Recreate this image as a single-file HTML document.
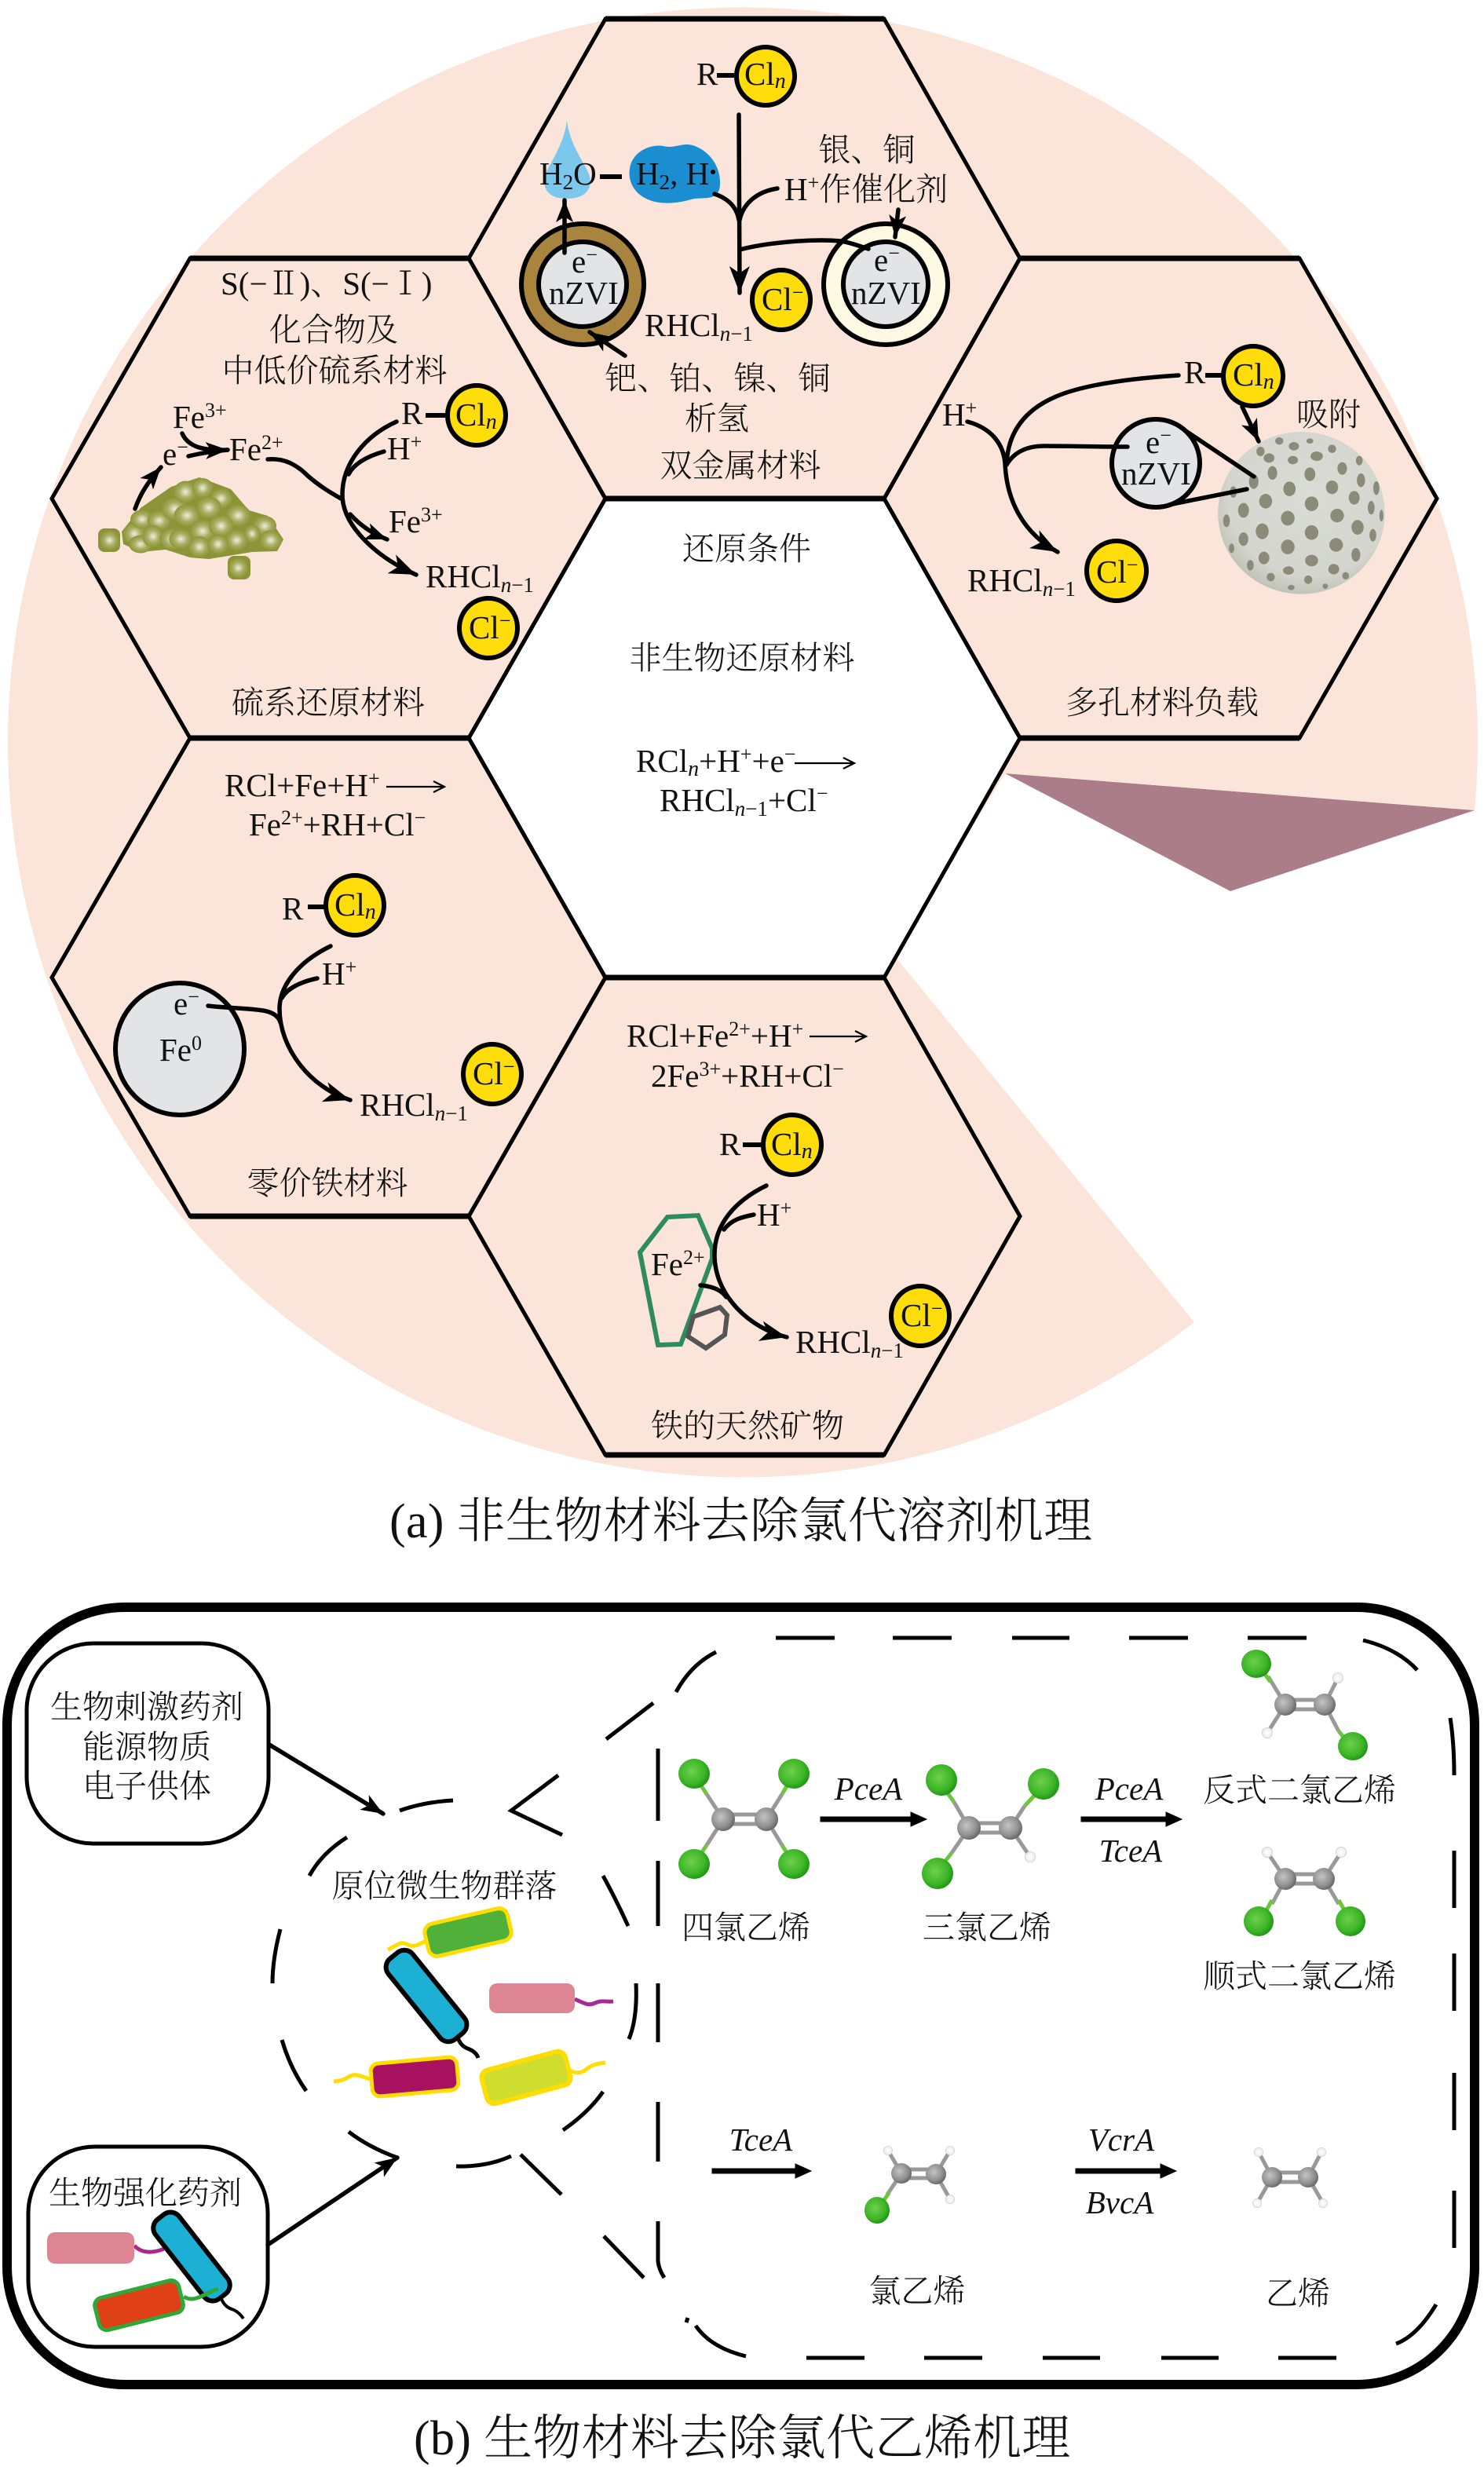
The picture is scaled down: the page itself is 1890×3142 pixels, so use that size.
<!DOCTYPE html>
<html><head><meta charset="utf-8"><style>
html,body{margin:0;padding:0;background:#fff}
svg{display:block}
text{font-family:"Liberation Serif","Noto Serif CJK SC",serif;font-size:41px;fill:#111;font-weight:300}
.m:not(.i){transform:translateY(2px)}
.m{text-anchor:middle}
.cap{font-size:62px;letter-spacing:.3px}
.i{font-style:italic;font-size:41px}
.l{fill:none;stroke:#000;stroke-width:5.5;stroke-linecap:round}
.t{fill:none;stroke:#000;stroke-width:2.2}
.d{fill:none;stroke:#000;stroke-width:5}
.h{fill:none;stroke:#000;stroke-width:5;stroke-linejoin:miter}
.y{fill:#ffdd0a;stroke:#000;stroke-width:6}
.g{fill:#e3e4e6;stroke:#000;stroke-width:6}
.b{stroke:#999;stroke-width:5}
.bg{stroke:#6cc63a;stroke-width:5}
</style></head><body>
<svg width="1890" height="3142" viewBox="0 0 1890 3142" xmlns="http://www.w3.org/2000/svg">
<defs>
<marker id="a" markerUnits="userSpaceOnUse" markerWidth="38" markerHeight="30" refX="34" refY="15" orient="auto"><path d="M0 2L34 15L0 28L9 15Z" fill="#000"/></marker>
<marker id="s" markerUnits="userSpaceOnUse" markerWidth="32" markerHeight="24" refX="28" refY="12" orient="auto"><path d="M0 1L28 12L0 23L7 12Z" fill="#000"/></marker>
<radialGradient id="cl" cx=".42" cy=".42" r=".6"><stop offset="0" stop-color="#6ed04c"/><stop offset=".7" stop-color="#3cb526"/><stop offset="1" stop-color="#1f9414"/></radialGradient>
<radialGradient id="cc" cx=".4" cy=".4" r=".62"><stop offset="0" stop-color="#c4c4c4"/><stop offset=".7" stop-color="#8e8e8e"/><stop offset="1" stop-color="#666"/></radialGradient>
<radialGradient id="hh" cx=".5" cy=".5" r=".55"><stop offset="0" stop-color="#fff"/><stop offset=".75" stop-color="#eee"/><stop offset="1" stop-color="#aaa"/></radialGradient>
<radialGradient id="ol" cx=".5" cy=".5" r=".55"><stop offset="0" stop-color="#eeeedd"/><stop offset=".5" stop-color="#a8ae62"/><stop offset="1" stop-color="#87902f"/></radialGradient>
<radialGradient id="sp" cx=".55" cy=".4" r=".7"><stop offset="0" stop-color="#dadcd6"/><stop offset=".7" stop-color="#d3d5ce"/><stop offset="1" stop-color="#b3b6aa"/></radialGradient>
</defs>

<!-- part a background -->
<path d="M1567 1135L1280 985L1878 1032Z" fill="#ab7d88"/>
<path d="M1878 1032A936 936 0 1 0 1521 1684L1139 1217L1280 985Z" fill="#fbe5da"/>
<polygon points="771,635 1126,635 1299,940 1126,1245 771,1245 597,940" fill="#fff"/>

<!-- hexagons -->
<g class="h">
<polygon class="h" points="771,24 1126,24 1299,329 1126,635 771,635 597,329"/>
<polygon class="h" points="242,329 597,329 771,635 597,940 242,940 66,635"/>
<polygon class="h" points="1299,329 1655,329 1830,635 1655,940 1299,940 1126,635"/>
<polygon class="h" points="597,940 771,1245 597,1549 242,1549 66,1245 242,940"/>
<polygon class="h" points="1126,1245 1299,1549 1126,1853 771,1853 597,1549 771,1245"/>
<polygon class="h" points="771,635 1126,635 1299,940 1126,1245 771,1245 597,940"/>
</g>
<g stroke="#000" stroke-width="7">
<path d="M771 24H1126M242 329H597M1299 329H1655M771 635H1126M242 940H597M1299 940H1655M771 1245H1126M242 1549H597M771 1853H1126"/>
</g>

<!-- TOP HEX -->
<text x="887" y="108">R</text>
<path d="M913 96H935" stroke="#000" stroke-width="6"/>
<ellipse class="y" cx="975" cy="97" rx="37" ry="37"/>
<text x="948" y="108">Cl<tspan style="font-size:28px;font-style:italic" dy="4">n</tspan></text>
<path d="M722 153C726 190 752 215 752 230C752 247 738 253 722 253C706 253 693 247 693 230C693 215 718 190 722 153Z" fill="#7cc8ec"/>
<path d="M802 215C805 192 830 183 845 186C860 190 870 180 885 186C905 194 918 213 917 235C916 258 895 250 880 254C860 260 832 262 815 248C805 240 800 228 802 215Z" fill="#1b8ed2"/>
<text x="687" y="235">H<tspan style="font-size:27px" dy="6">2</tspan><tspan dy="-6">O</tspan></text>
<path d="M764 225H792" stroke="#000" stroke-width="6"/>
<text x="810" y="235">H<tspan style="font-size:27px" dy="6">2</tspan><tspan dy="-6">, H</tspan></text>
<circle cx="908" cy="219" r="3" fill="#000"/>
<path class="l" d="M941 146L942 373" marker-end="url(#a)"/>
<path class="l" d="M910 247C925 252 938 262 941 280"/>
<path class="l" d="M990 240C965 244 947 258 942 280"/>
<text x="999" y="255">H<tspan style="font-size:26px" dy="-14">+</tspan><tspan dy="14">作催化剂</tspan></text>
<text x="1104" y="203" class="m">银、铜</text>
<ellipse cx="1128" cy="362" rx="79" ry="77" fill="#fdf9e3" stroke="#000" stroke-width="6"/>
<ellipse class="g" cx="1128" cy="362" rx="54" ry="54"/>
<text x="1113" y="345">e<tspan style="font-size:26px" dy="-14">−</tspan></text>
<text x="1084" y="387">nZVI</text>
<ellipse cx="742" cy="362" rx="78" ry="77" fill="#a9843e" stroke="#000" stroke-width="6"/>
<ellipse class="g" cx="742" cy="362" rx="56" ry="54"/>
<text x="728" y="347">e<tspan style="font-size:26px" dy="-14">−</tspan></text>
<text x="699" y="387">nZVI</text>
<path class="l" d="M719 322L719 255" marker-end="url(#s)"/>
<path class="l" d="M796 453L751 423" marker-end="url(#s)"/>
<path class="l" d="M1144 267L1140 302" marker-end="url(#s)"/>
<path class="l" d="M942 318C980 308 1040 304 1070 307C1085 309 1095 314 1106 317"/>
<ellipse class="y" cx="995" cy="382" rx="37" ry="38"/>
<text x="970" y="395">Cl<tspan style="font-size:26px" dy="-14">−</tspan></text>
<text x="821" y="428">RHCl<tspan style="font-size:27px;font-style:italic" dy="6">n</tspan><tspan style="font-size:27px">−1</tspan></text>
<text x="914" y="494" class="m">钯、铂、镍、铜</text>
<text x="913" y="545" class="m">析氢</text>
<text x="943" y="605" class="m">双金属材料</text>

<!-- UPPER LEFT HEX -->
<text x="281" y="375">S(−Ⅱ)、S(−Ⅰ)</text>
<text x="425" y="432" class="m">化合物及</text>
<text x="426" y="484" class="m">中低价硫系材料</text>
<text x="418" y="907" class="m">硫系还原材料</text>
<polygon points="155,677 179,647 218,620 254,608 294,623 317,650 341,657 361,687 353,702 321,703 266,712 242,710 211,700 179,703 157,693" fill="#8b9436"/>
<rect x="125" y="673" width="28" height="30" rx="8" fill="#8b9436"/>
<rect x="290" y="708" width="29" height="30" rx="8" fill="#8b9436"/>
<g transform="translate(100 480) scale(.395 .333)" fill="url(#ol)">
<ellipse cx="100" cy="625" rx="32" ry="38"/><ellipse cx="180" cy="600" rx="36" ry="42"/><ellipse cx="200" cy="640" rx="38" ry="34"/><ellipse cx="205" cy="545" rx="38" ry="36"/><ellipse cx="260" cy="550" rx="38" ry="38"/><ellipse cx="240" cy="610" rx="34" ry="42"/><ellipse cx="300" cy="620" rx="38" ry="42"/><ellipse cx="310" cy="505" rx="42" ry="44"/><ellipse cx="345" cy="440" rx="38" ry="42"/><ellipse cx="400" cy="425" rx="34" ry="38"/><ellipse cx="460" cy="465" rx="36" ry="38"/><ellipse cx="350" cy="530" rx="42" ry="42"/><ellipse cx="420" cy="500" rx="40" ry="42"/><ellipse cx="515" cy="530" rx="40" ry="42"/><ellipse cx="400" cy="590" rx="42" ry="42"/><ellipse cx="460" cy="570" rx="40" ry="42"/><ellipse cx="510" cy="625" rx="36" ry="40"/><ellipse cx="390" cy="650" rx="36" ry="40"/><ellipse cx="600" cy="570" rx="38" ry="38"/><ellipse cx="620" cy="625" rx="36" ry="38"/><ellipse cx="560" cy="600" rx="26" ry="34"/><ellipse cx="330" cy="620" rx="38" ry="38"/><ellipse cx="515" cy="730" rx="32" ry="38"/><ellipse cx="450" cy="640" rx="34" ry="38"/>
</g>
<path d="M172 648C180 625 192 610 205 595" class="l" marker-end="url(#s)"/>
<path d="M232 552C240 570 260 574 290 573" class="l" marker-end="url(#s)"/>
<path d="M240 581C252 578 268 575 290 573" class="l"/>
<text x="220" y="545">Fe<tspan style="font-size:26px" dy="-14">3+</tspan></text>
<text x="207" y="592">e<tspan style="font-size:26px" dy="-14">−</tspan></text>
<text x="292" y="586">Fe<tspan style="font-size:26px" dy="-14">2+</tspan></text>
<text x="511" y="540">R</text>
<text x="493" y="585">H<tspan style="font-size:26px" dy="-14">+</tspan></text>
<path d="M542 529H570" stroke="#000" stroke-width="6"/>
<ellipse class="y" cx="607" cy="529" rx="37" ry="38"/>
<text x="580" y="542">Cl<tspan style="font-size:28px;font-style:italic" dy="4">n</tspan></text>
<path class="l" d="M341 585C362 583 378 592 392 606C408 620 422 628 436 636"/>
<path class="l" d="M505 537C465 555 436 590 436 630C436 670 480 710 530 732" marker-end="url(#a)"/>
<path class="l" d="M489 575C465 582 450 592 444 604"/>
<path class="l" d="M446 655C455 665 470 678 493 687" marker-end="url(#s)"/>
<text x="495" y="678">Fe<tspan style="font-size:26px" dy="-14">3+</tspan></text>
<text x="542" y="748">RHCl<tspan style="font-size:27px;font-style:italic" dy="6">n</tspan><tspan style="font-size:27px">−1</tspan></text>
<ellipse class="y" cx="622" cy="800" rx="37" ry="38"/>
<text x="597" y="813">Cl<tspan style="font-size:26px" dy="-14">−</tspan></text>

<!-- UPPER RIGHT HEX -->
<text x="1200" y="542">H<tspan style="font-size:26px" dy="-14">+</tspan></text>
<path class="l" d="M1232 537C1262 545 1278 565 1280 590C1282 640 1305 680 1347 703" marker-end="url(#a)"/>
<path class="l" d="M1501 478C1440 482 1380 490 1345 505C1305 522 1284 550 1282 590"/>
<text x="1508" y="488">R</text>
<path d="M1535 478H1558" stroke="#000" stroke-width="6"/>
<ellipse class="y" cx="1596" cy="479" rx="38" ry="38"/>
<text x="1570" y="491">Cl<tspan style="font-size:28px;font-style:italic" dy="4">n</tspan></text>
<g transform="translate(1150 440) scale(.4337 .3333)">
<ellipse cx="1170" cy="640" rx="245" ry="310" fill="url(#sp)"/>
<g fill="#8b8b7a">
<ellipse cx="1105" cy="365" rx="12" ry="14"/><ellipse cx="1148" cy="385" rx="15" ry="16"/><ellipse cx="1195" cy="365" rx="10" ry="10"/><ellipse cx="1260" cy="395" rx="12" ry="16"/><ellipse cx="1050" cy="405" rx="12" ry="18"/><ellipse cx="1075" cy="430" rx="16" ry="18"/><ellipse cx="1145" cy="438" rx="15" ry="16"/><ellipse cx="1215" cy="423" rx="18" ry="18"/><ellipse cx="1290" cy="470" rx="14" ry="24"/><ellipse cx="1340" cy="440" rx="10" ry="18"/><ellipse cx="1085" cy="487" rx="14" ry="26"/><ellipse cx="1195" cy="492" rx="16" ry="26"/><ellipse cx="1345" cy="515" rx="12" ry="26"/><ellipse cx="1390" cy="545" rx="9" ry="26"/><ellipse cx="1030" cy="520" rx="14" ry="28"/><ellipse cx="1135" cy="548" rx="18" ry="28"/><ellipse cx="1260" cy="542" rx="18" ry="26"/><ellipse cx="1325" cy="582" rx="16" ry="26"/><ellipse cx="1375" cy="620" rx="10" ry="26"/><ellipse cx="970" cy="560" rx="10" ry="22"/><ellipse cx="1065" cy="595" rx="19" ry="28"/><ellipse cx="1200" cy="605" rx="20" ry="28"/><ellipse cx="1000" cy="630" rx="16" ry="28"/><ellipse cx="1130" cy="660" rx="20" ry="28"/><ellipse cx="1275" cy="650" rx="20" ry="26"/><ellipse cx="1405" cy="650" rx="6" ry="22"/><ellipse cx="950" cy="670" rx="10" ry="24"/><ellipse cx="1055" cy="710" rx="19" ry="30"/><ellipse cx="1200" cy="715" rx="20" ry="28"/><ellipse cx="1335" cy="695" rx="18" ry="28"/><ellipse cx="1380" cy="725" rx="10" ry="24"/><ellipse cx="1000" cy="740" rx="14" ry="26"/><ellipse cx="1130" cy="770" rx="20" ry="28"/><ellipse cx="1272" cy="762" rx="20" ry="26"/><ellipse cx="1330" cy="800" rx="13" ry="26"/><ellipse cx="965" cy="775" rx="8" ry="18"/><ellipse cx="1060" cy="812" rx="16" ry="24"/><ellipse cx="1200" cy="822" rx="19" ry="22"/><ellipse cx="1265" cy="855" rx="16" ry="20"/><ellipse cx="1020" cy="840" rx="10" ry="20"/><ellipse cx="1132" cy="860" rx="16" ry="16"/><ellipse cx="1080" cy="885" rx="12" ry="16"/><ellipse cx="1190" cy="895" rx="12" ry="16"/><ellipse cx="1300" cy="880" rx="10" ry="14"/><ellipse cx="1140" cy="925" rx="10" ry="10"/><ellipse cx="1240" cy="920" rx="8" ry="10"/>
</g></g>
<path class="l" d="M1582 518L1603 562" marker-end="url(#s)"/>
<text x="1692" y="540" class="m">吸附</text>
<path class="l" d="M1497 540L1597 607M1493 642L1588 623"/>
<ellipse class="g" cx="1472" cy="590" rx="56" ry="56"/>
<path class="l" d="M1436 569C1400 569 1360 568 1330 568C1305 568 1290 578 1282 592"/>
<text x="1459" y="577">e<tspan style="font-size:26px" dy="-14">−</tspan></text>
<text x="1428" y="617">nZVI</text>
<ellipse class="y" cx="1422" cy="727" rx="38" ry="38"/>
<text x="1396" y="742">Cl<tspan style="font-size:26px" dy="-14">−</tspan></text>
<text x="1232" y="753">RHCl<tspan style="font-size:27px;font-style:italic" dy="6">n</tspan><tspan style="font-size:27px">−1</tspan></text>
<text x="1480" y="907" class="m">多孔材料负载</text>

<!-- CENTER -->
<text x="951" y="711" class="m">还原条件</text>
<text x="945" y="850" class="m">非生物还原材料</text>
<text x="810" y="983">RCl<tspan style="font-size:28px;font-style:italic" dy="5">n</tspan><tspan dy="-5">+H</tspan><tspan style="font-size:26px" dy="-14">+</tspan><tspan dy="14">+e</tspan><tspan style="font-size:26px" dy="-14">−</tspan></text>
<path class="t" d="M1012 972H1086M1074 965L1088 972L1074 979"/>
<text x="840" y="1033">RHCl<tspan style="font-size:27px;font-style:italic" dy="6">n</tspan><tspan style="font-size:27px">−1</tspan><tspan dy="-6">+Cl</tspan><tspan style="font-size:26px" dy="-14">−</tspan></text>

<!-- LOWER LEFT -->
<text x="286" y="1014">RCl+Fe+H<tspan style="font-size:26px" dy="-14">+</tspan></text>
<path class="t" d="M492 1002H564M552 995L566 1002L552 1009"/>
<text x="317" y="1064">Fe<tspan style="font-size:26px" dy="-14">2+</tspan><tspan dy="14">+RH+Cl</tspan><tspan style="font-size:26px" dy="-14">−</tspan></text>
<text x="359" y="1171">R</text>
<path d="M392 1155H416" stroke="#000" stroke-width="6"/>
<ellipse class="y" cx="452" cy="1153" rx="37" ry="38"/>
<text x="426" y="1166">Cl<tspan style="font-size:28px;font-style:italic" dy="4">n</tspan></text>
<ellipse class="g" cx="229" cy="1336" rx="82" ry="84"/>
<text x="221" y="1292">e<tspan style="font-size:26px" dy="-14">−</tspan></text>
<text x="203" y="1351">Fe<tspan style="font-size:26px" dy="-14">0</tspan></text>
<path class="l" d="M421 1205C380 1225 356 1255 356 1285C356 1335 395 1385 446 1401" marker-end="url(#a)"/>
<path class="l" d="M404 1246C385 1250 366 1258 359 1271"/>
<path class="l" d="M265 1281C290 1284 315 1284 335 1287C348 1289 355 1295 357 1302"/>
<text x="410" y="1254">H<tspan style="font-size:26px" dy="-14">+</tspan></text>
<text x="458" y="1421">RHCl<tspan style="font-size:27px;font-style:italic" dy="6">n</tspan><tspan style="font-size:27px">−1</tspan></text>
<ellipse class="y" cx="627" cy="1368" rx="37" ry="38"/>
<text x="602" y="1381">Cl<tspan style="font-size:26px" dy="-14">−</tspan></text>
<text x="417" y="1519" class="m">零价铁材料</text>

<!-- BOTTOM HEX -->
<text x="798" y="1333">RCl+Fe<tspan style="font-size:26px" dy="-14">2+</tspan><tspan dy="14">+H</tspan><tspan style="font-size:26px" dy="-14">+</tspan></text>
<path class="t" d="M1031 1320H1101M1089 1313L1103 1320L1089 1327"/>
<text x="829" y="1384">2Fe<tspan style="font-size:26px" dy="-14">3+</tspan><tspan dy="14">+RH+Cl</tspan><tspan style="font-size:26px" dy="-14">−</tspan></text>
<text x="916" y="1471">R</text>
<path d="M946 1458H974" stroke="#000" stroke-width="6"/>
<ellipse class="y" cx="1009" cy="1458" rx="37" ry="38"/>
<text x="982" y="1471">Cl<tspan style="font-size:28px;font-style:italic" dy="4">n</tspan></text>
<polygon points="850,1550 889,1548 907,1590 907,1603 867,1712 838,1713 815,1595" fill="none" stroke="#2e8b60" stroke-width="6"/>
<polygon points="883,1677 917,1665 926,1675 923,1700 899,1717 876,1702" fill="none" stroke="#555" stroke-width="6"/>
<text x="829" y="1624">Fe<tspan style="font-size:26px" dy="-14">2+</tspan></text>
<path class="l" d="M976 1510C935 1530 910 1560 910 1598C910 1650 955 1692 1002 1703" marker-end="url(#a)"/>
<path class="l" d="M960 1547C945 1550 932 1553 922 1566"/>
<path class="l" d="M892 1637C905 1638 918 1642 925 1652"/>
<text x="964" y="1561">H<tspan style="font-size:26px" dy="-14">+</tspan></text>
<text x="1013" y="1723">RHCl<tspan style="font-size:27px;font-style:italic" dy="6">n</tspan><tspan style="font-size:27px">−1</tspan></text>
<ellipse class="y" cx="1172" cy="1676" rx="37" ry="38"/>
<text x="1147" y="1689">Cl<tspan style="font-size:26px" dy="-14">−</tspan></text>
<text x="952" y="1828" class="m">铁的天然矿物</text>

<text x="496" y="1958" class="cap">(a) 非生物材料去除氯代溶剂机理</text>

<!-- PART B -->
<rect x="9" y="2047" width="1869" height="990" rx="150" ry="150" fill="none" stroke="#000" stroke-width="12"/>
<rect x="34" y="2093" width="308" height="255" rx="85" ry="85" fill="#fff" stroke="#000" stroke-width="5"/>
<rect x="36" y="2734" width="305" height="255" rx="85" ry="85" fill="#fff" stroke="#000" stroke-width="5"/>
<text x="187" y="2186" class="m">生物刺激药剂</text>
<text x="187" y="2237" class="m">能源物质</text>
<text x="187" y="2287" class="m">电子供体</text>
<text x="185" y="2805" class="m">生物强化药剂</text>
<path class="l" d="M343 2222L488 2310" marker-end="url(#s)"/>
<path class="l" d="M341 2859L506 2748" marker-end="url(#s)"/>

<!-- dashed community circle -->
<g class="d">
<path class="d" d="M509 2306Q540 2295 577 2293"/>
<path class="d" d="M394 2389Q410 2360 442 2340"/>
<path class="d" d="M357 2457Q347 2495 347 2526"/>
<path class="d" d="M359 2598Q370 2635 390 2663"/>
<path class="d" d="M444 2715Q470 2735 506 2748"/>
<path class="d" d="M581 2759Q620 2760 651 2746"/>
<path class="d" d="M717 2713Q750 2690 768 2664"/>
<path class="d" d="M801 2597Q812 2570 810 2526"/>
<path class="d" d="M768 2389Q785 2420 800 2453"/>
<path class="d" d="M711 2261L651 2306L716 2337"/>
<path class="d" d="M772 2215L832 2169"/>
<path class="d" d="M861 2155Q880 2120 912 2104"/>
<path class="d" d="M663 2744L715 2795"/>
<path class="d" d="M769 2848L820 2901"/>
</g>
<!-- dashed big rect -->
<path d="M838 2227V2319M838 2370V2453M838 2526V2601M838 2677V2753" class="d"/>
<path d="M838 2829V2880Q839 2890 846 2901" class="d"/>
<path d="M988 2086H1063M1137 2086H1212M1289 2086H1362M1438 2086H1513M1589 2086H1664" class="d"/>
<path d="M1736 2089Q1780 2100 1805 2127" class="d"/>
<path d="M1847 2188Q1852 2220 1852 2261M1852 2357V2430M1852 2488V2561M1852 2640V2713M1852 2790V2863" class="d"/>
<path d="M1829 2935Q1805 2975 1778 2985" class="d"/>
<path d="M1027 3003H1101M1177 3003H1251M1328 3003H1401M1479 3003H1552M1628 3003H1702" class="d"/>
<path d="M886 2962Q905 2990 950 3001" class="d"/>
<path d="M876 2952L874 2958" class="d"/>

<!-- bacteria -->
<g>
<path d="M494 2483C505 2478 510 2472 518 2476C528 2482 535 2475 542 2472" fill="none" stroke="#ffdd00" stroke-width="5"/>
<rect x="-54" y="-21" width="108" height="42" rx="11" transform="translate(596 2461) rotate(-13)" fill="#4fb13a" stroke="#ffdd00" stroke-width="5"/>
<path d="M581 2589C585 2605 592 2608 598 2610C605 2613 608 2618 609 2621" fill="none" stroke="#000" stroke-width="5"/>
<rect x="-66" y="-20" width="132" height="40" rx="14" transform="translate(543 2542) rotate(51)" fill="#1cb0d4" stroke="#000" stroke-width="6"/>
<path d="M732 2546C745 2552 750 2555 758 2551C766 2547 772 2550 781 2549" fill="none" stroke="#a82a8e" stroke-width="5"/>
<rect x="623" y="2526" width="109" height="38" rx="10" fill="#dd8592"/>
<path d="M425 2651C435 2650 440 2648 446 2644C455 2640 462 2646 472 2648" fill="none" stroke="#ffdd00" stroke-width="5"/>
<rect x="-55" y="-21" width="110" height="42" rx="10" transform="translate(528 2645) rotate(-5)" fill="#a81060" stroke="#ffdd00" stroke-width="5"/>
<path d="M726 2637C735 2642 742 2640 750 2633C758 2628 764 2628 771 2627" fill="none" stroke="#ffdd00" stroke-width="5"/>
<rect x="-55" y="-22" width="110" height="44" rx="10" transform="translate(670 2646) rotate(-15)" fill="#cfdd2f" stroke="#ffdd00" stroke-width="6"/>
<path d="M171 2860C180 2870 195 2870 209 2864" fill="none" stroke="#a82a8e" stroke-width="5"/>
<rect x="60" y="2843" width="111" height="40" rx="10" fill="#dd8592"/>
<path d="M280 2923C285 2938 292 2940 298 2942C304 2945 308 2950 310 2953" fill="none" stroke="#000" stroke-width="4"/>
<rect x="-64" y="-19" width="128" height="38" rx="14" transform="translate(244 2874) rotate(52)" fill="#1cb0d4" stroke="#000" stroke-width="6"/>
<rect x="-55" y="-21" width="110" height="42" rx="10" transform="translate(177 2936) rotate(-14)" fill="#e04016" stroke="#2ea836" stroke-width="5"/>
<path d="M234 2925C245 2932 255 2925 262 2922C268 2919 272 2917 278 2915" fill="none" stroke="#2ea836" stroke-width="5"/>
</g>
<text x="566" y="2414" class="m">原位微生物群落</text>

<!-- molecules -->
<path class="b" d="M921 2317L900 2285M976 2317L996 2285M921 2317L900 2350M976 2317L996 2350M921 2311H976M921 2323H976"/>
<path class="bg" d="M900 2285L889 2268M996 2285L1006 2268M900 2350L889 2366M996 2350L1006 2366"/>
<ellipse cx="884" cy="2259" rx="20" ry="19" fill="url(#cl)"/><ellipse cx="1011" cy="2259" rx="20" ry="19" fill="url(#cl)"/><ellipse cx="884" cy="2374" rx="20" ry="19" fill="url(#cl)"/><ellipse cx="1011" cy="2374" rx="20" ry="19" fill="url(#cl)"/>
<circle cx="921" cy="2317" r="15" fill="url(#cc)"/><circle cx="976" cy="2317" r="15" fill="url(#cc)"/>
<text x="950" y="2467" class="m">四氯乙烯</text>
<path class="b" d="M1234 2328L1215 2295M1287 2328L1305 2300M1234 2328L1212 2360M1287 2328L1312 2365M1234 2322H1287M1234 2334H1287"/>
<path class="bg" d="M1215 2295L1204 2280M1305 2300L1322 2282M1212 2360L1200 2375"/>
<ellipse cx="1199" cy="2267" rx="20" ry="20" fill="url(#cl)"/><ellipse cx="1329" cy="2272" rx="20" ry="20" fill="url(#cl)"/><ellipse cx="1194" cy="2386" rx="20" ry="20" fill="url(#cl)"/>
<circle cx="1312" cy="2365" r="7" fill="url(#hh)"/>
<circle cx="1234" cy="2328" r="15" fill="url(#cc)"/><circle cx="1287" cy="2328" r="15" fill="url(#cc)"/>
<text x="1257" y="2467" class="m">三氯乙烯</text>
<path class="b" d="M1637 2171L1614 2207M1687 2171L1704 2137M1637 2171L1615 2135M1687 2171L1705 2205M1637 2165H1687M1637 2177H1687"/>
<path class="bg" d="M1608 2128L1618 2142M1705 2205L1716 2218"/>
<circle cx="1614" cy="2207" r="7" fill="url(#hh)"/><circle cx="1704" cy="2137" r="7" fill="url(#hh)"/>
<ellipse cx="1600" cy="2119" rx="19" ry="18" fill="url(#cl)"/><ellipse cx="1723" cy="2224" rx="19" ry="18" fill="url(#cl)"/>
<circle cx="1637" cy="2171" r="14" fill="url(#cc)"/><circle cx="1687" cy="2171" r="14" fill="url(#cc)"/>
<text x="1655" y="2292" class="m">反式二氯乙烯</text>
<path class="b" d="M1637 2393L1614 2359M1686 2393L1708 2359M1637 2393L1620 2425M1686 2393L1705 2425M1637 2387H1686M1637 2399H1686"/>
<path class="bg" d="M1620 2420L1610 2438M1705 2420L1715 2438"/>
<circle cx="1614" cy="2359" r="7" fill="url(#hh)"/><circle cx="1708" cy="2359" r="7" fill="url(#hh)"/>
<ellipse cx="1603" cy="2447" rx="19" ry="19" fill="url(#cl)"/><ellipse cx="1720" cy="2447" rx="19" ry="19" fill="url(#cl)"/>
<circle cx="1637" cy="2393" r="14" fill="url(#cc)"/><circle cx="1686" cy="2393" r="14" fill="url(#cc)"/>
<text x="1655" y="2529" class="m">顺式二氯乙烯</text>
<path class="b" d="M1148 2768L1131 2739M1192 2769L1210 2739M1192 2769L1210 2801M1148 2768L1130 2795M1148 2763H1192M1148 2774H1192"/>
<path class="bg" d="M1132 2793L1122 2808"/>
<circle cx="1131" cy="2739" r="6" fill="url(#hh)"/><circle cx="1210" cy="2739" r="6" fill="url(#hh)"/><circle cx="1210" cy="2801" r="6" fill="url(#hh)"/>
<ellipse cx="1117" cy="2815" rx="16" ry="17" fill="url(#cl)"/>
<circle cx="1148" cy="2768" r="13" fill="url(#cc)"/><circle cx="1192" cy="2769" r="13" fill="url(#cc)"/>
<text x="1168" y="2930" class="m">氯乙烯</text>
<path class="b" d="M1620 2773L1603 2741M1666 2773L1683 2741M1620 2773L1601 2806M1666 2773L1685 2806M1620 2767H1666M1620 2779H1666"/>
<circle cx="1603" cy="2741" r="6" fill="url(#hh)"/><circle cx="1683" cy="2741" r="6" fill="url(#hh)"/><circle cx="1601" cy="2806" r="6" fill="url(#hh)"/><circle cx="1685" cy="2806" r="6" fill="url(#hh)"/>
<circle cx="1620" cy="2773" r="13" fill="url(#cc)"/><circle cx="1666" cy="2773" r="13" fill="url(#cc)"/>
<text x="1653" y="2933" class="m">乙烯</text>

<!-- enzyme arrows -->
<g fill="#000">
<path d="M1045 2314H1160V2308L1180 2317L1160 2326V2320H1045Z" stroke="#000" stroke-width="1"/>
<path d="M1377 2314H1485V2308L1505 2317L1485 2326V2320H1377Z" stroke="#000" stroke-width="1"/>
<path d="M907 2762H1013V2756L1033 2765L1013 2774V2768H907Z" stroke="#000" stroke-width="1"/>
<path d="M1370 2762H1478V2756L1498 2765L1478 2774V2768H1370Z" stroke="#000" stroke-width="1"/>
</g>
<text x="1106" y="2292" class="m i">PceA</text>
<text x="1438" y="2292" class="m i">PceA</text>
<text x="1440" y="2371" class="m i">TceA</text>
<text x="969" y="2739" class="m i">TceA</text>
<text x="1428" y="2739" class="m i">VcrA</text>
<text x="1426" y="2819" class="m i">BvcA</text>

<text x="527" y="3126" class="cap">(b) 生物材料去除氯代乙烯机理</text>
</svg>
</body></html>
